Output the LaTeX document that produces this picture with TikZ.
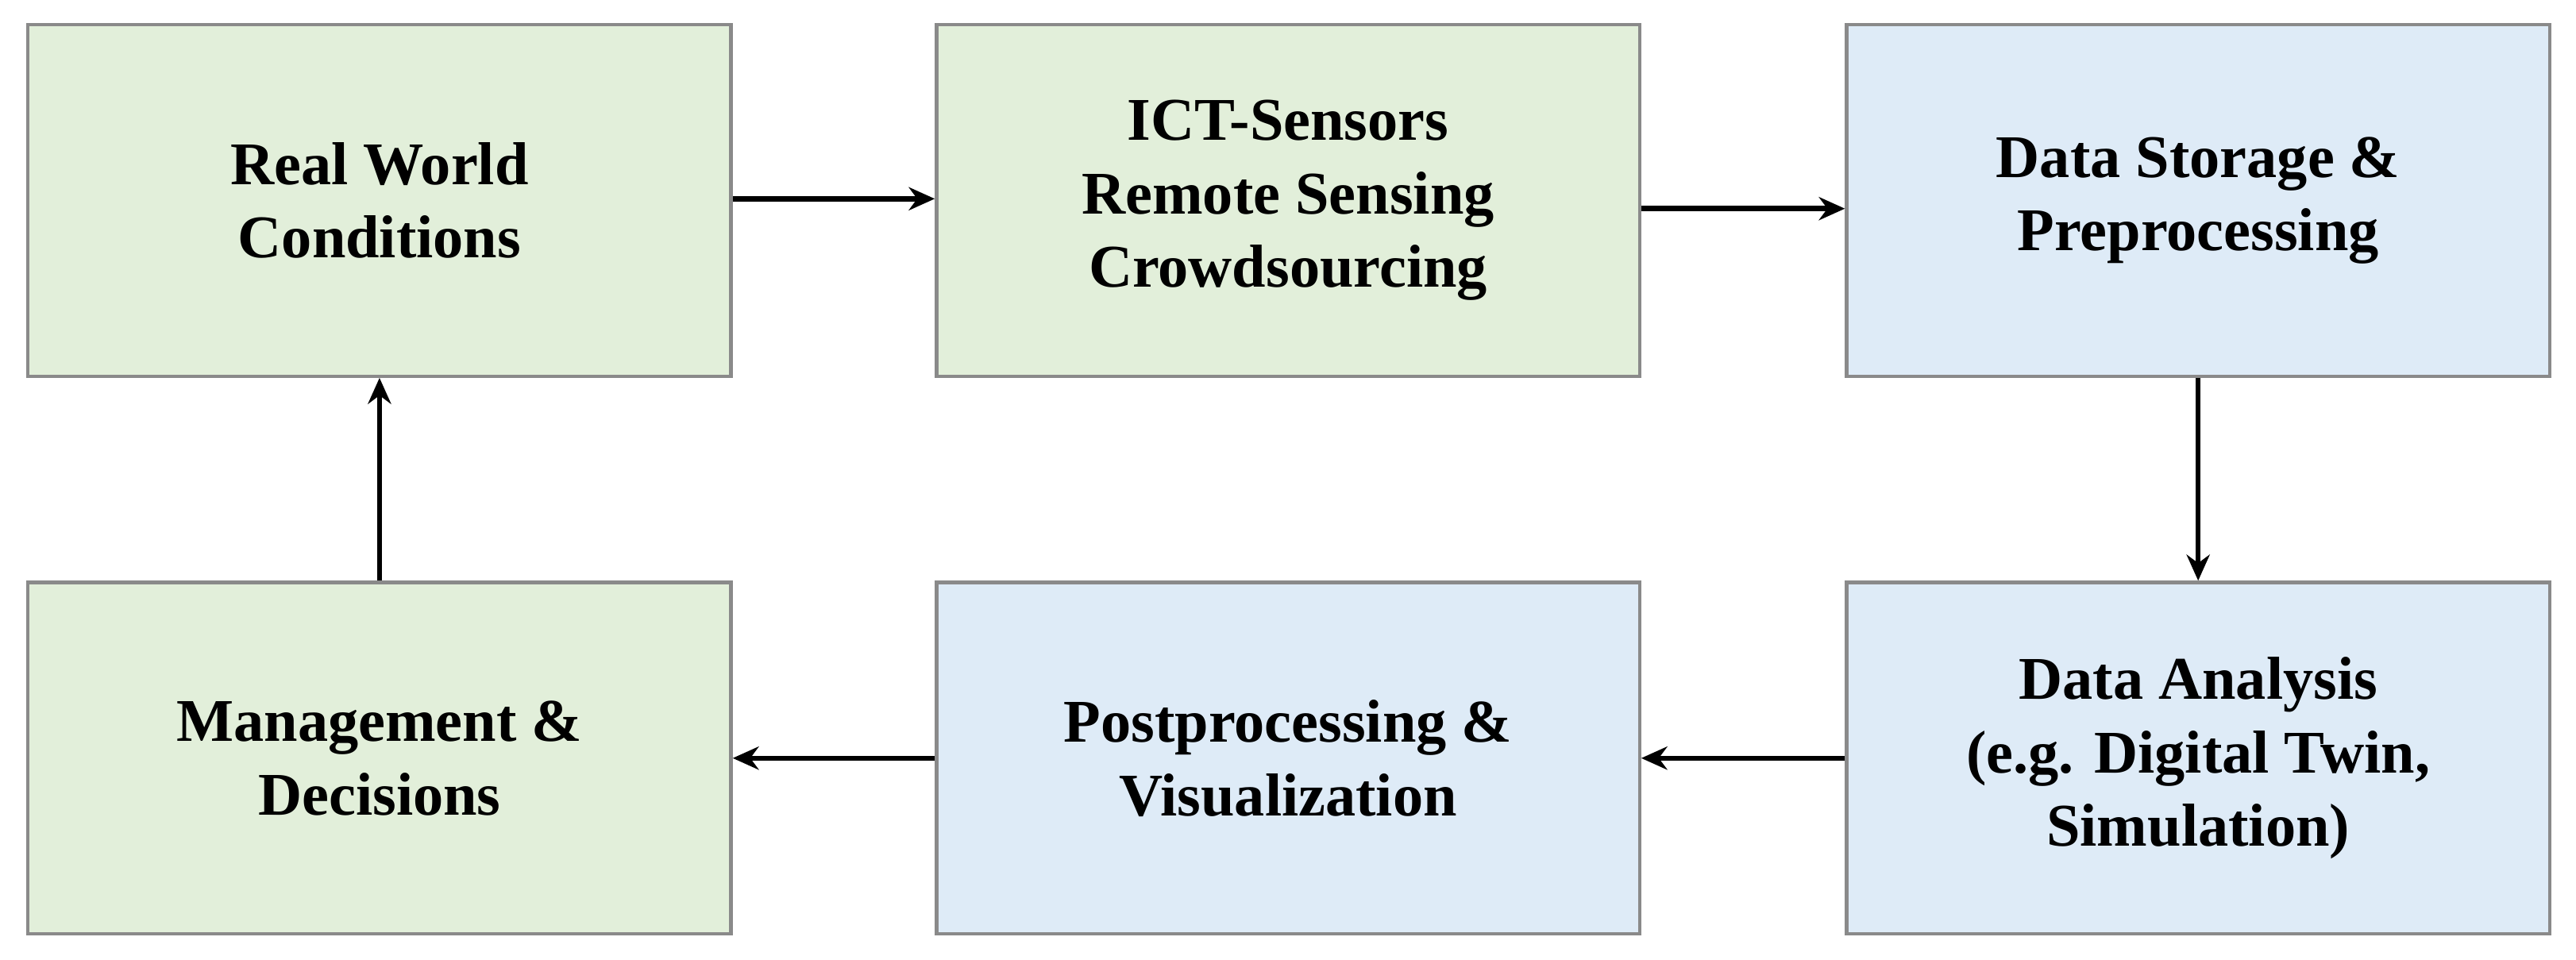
\documentclass[tikz,border=0pt]{standalone}
\usepackage{fontspec}
\setmainfont{Liberation Serif}
\usetikzlibrary{arrows.meta}
\definecolor{gfill}{HTML}{E2EFDA}
\definecolor{bfill}{HTML}{DEEBF7}
\definecolor{bdr}{HTML}{8A8A8A}
\begin{document}
\begin{tikzpicture}[x=0.02cm,y=-0.02cm,
 box/.style={draw=bdr,line width=1.2pt,minimum width=8.56cm,minimum height=4.28cm,align=center,font=\fontsize{21}{25.5}\selectfont\bfseries,inner sep=0pt},
 g/.style={box,fill=gfill}, b/.style={box,fill=bfill},
 arr/.style={line width=1.8pt,-{Stealth[length=9pt,width=8pt]}}]
\useasboundingbox (0,0) rectangle (1568,584);
\node[g] (rw) at (231,122) {Real World\\Conditions};
\node[g] (ict) at (784,122) {ICT-Sensors\\Remote Sensing\\Crowdsourcing};
\node[b] (ds) at (1338,122) {Data Storage \&\\Preprocessing};
\node[b] (da) at (1338,461.5) {Data Analysis\\(e.g. Digital Twin,\\Simulation)};
\node[b] (pp) at (784,461.5) {Postprocessing \&\\Visualization};
\node[g] (md) at (231,461.5) {Management \&\\Decisions};
\draw[arr] ([yshift=0.02cm]rw.east) -- ([yshift=0.02cm]ict.west);
\draw[arr] ([yshift=-0.1cm]ict.east) -- ([yshift=-0.1cm]ds.west);
\draw[arr] (ds.south) -- (da.north);
\draw[arr] (da.west) -- (pp.east);
\draw[arr] (pp.west) -- (md.east);
\draw[arr] (md.north) -- (rw.south);
\end{tikzpicture}
\end{document}
